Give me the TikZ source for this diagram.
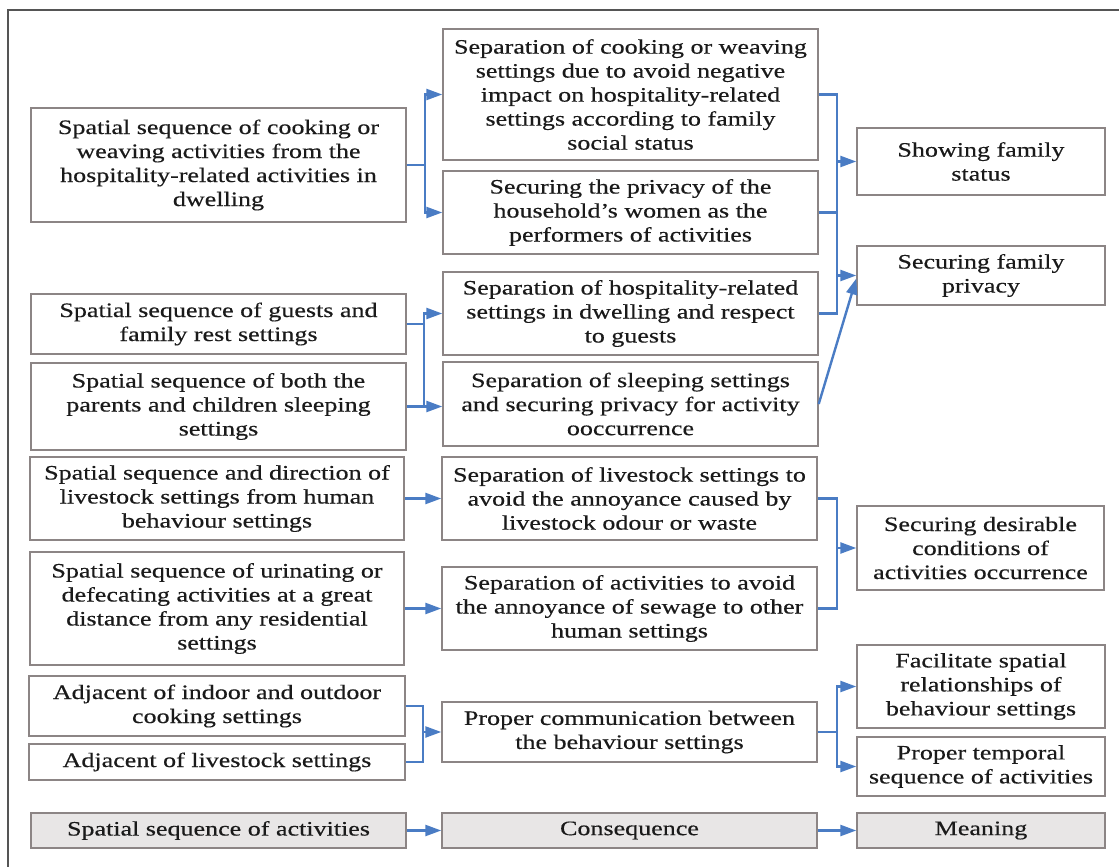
\documentclass[tikz,border=0pt]{standalone}
\usepackage{fontspec}
\setmainfont{Liberation Serif}[FakeStretch=1.27,FakeBold=0.4]
\usetikzlibrary{arrows.meta}
\definecolor{boxline}{HTML}{8C8585}
\definecolor{linkblue}{HTML}{4A7CC4}
\definecolor{keyfill}{HTML}{E8E6E6}
\definecolor{inkc}{HTML}{1A1A1A}
\definecolor{framec}{HTML}{555555}
\tikzset{
  box/.style={draw=boxline, line width=1.4pt, fill=white, align=center,
    inner sep=0pt, text=inkc,
    font=\fontsize{20.5}{24}\selectfont},
  keybox/.style={box, fill=keyfill},
  conn/.style={draw=linkblue, line width=2.4pt},
  arr/.style={conn, -{Triangle[length=16pt,width=11pt]}},
}
\begin{document}
\begin{tikzpicture}[x=1pt,y=-1pt]
\useasboundingbox (0,0) rectangle (1119,867);
\begin{scope}
\clip (0,0) rectangle (1119,867);
\draw[framec, line width=1.6pt] (8,880) -- (8,10) -- (1130,10);
\end{scope}

% left column: spatial sequence of activities
\node[box, minimum width=375pt, minimum height=114pt] (L1) at (218.5,165)
  {Spatial sequence of cooking or\\weaving activities from the\\hospitality-related activities in\\dwelling};
\node[box, minimum width=375pt, minimum height=60pt] (L2) at (218.5,324)
  {Spatial sequence of guests and\\family rest settings};
\node[box, minimum width=375pt, minimum height=87pt] (L3) at (218.5,406.5)
  {Spatial sequence of both the\\parents and children sleeping\\settings};
\node[box, minimum width=374pt, minimum height=83pt] (L4) at (217,498.5)
  {Spatial sequence and direction of\\livestock settings from human\\behaviour settings};
\node[box, minimum width=374pt, minimum height=113pt] (L5) at (217,608.5)
  {Spatial sequence of urinating or\\defecating activities at a great\\distance from any residential\\settings};
\node[box, minimum width=376pt, minimum height=60pt] (L6) at (217,706)
  {Adjacent of indoor and outdoor\\cooking settings};
\node[box, minimum width=376pt, minimum height=36pt] (L7) at (217,762)
  {Adjacent of livestock settings};
\node[keybox, minimum width=375pt, minimum height=35pt] (L8) at (218.5,830.5)
  {Spatial sequence of activities};

% middle column: consequences
\node[box, minimum width=375pt, minimum height=131pt] (M1) at (630.5,94.5)
  {Separation of cooking or weaving\\settings due to avoid negative\\impact on hospitality-related\\settings according to family\\social status};
\node[box, minimum width=375pt, minimum height=83pt] (M2) at (630.5,212.5)
  {Securing the privacy of the\\household’s women as the\\performers of activities};
\node[box, minimum width=375pt, minimum height=83pt] (M3) at (630.5,313.5)
  {Separation of hospitality-related\\settings in dwelling and respect\\to guests};
\node[box, minimum width=375pt, minimum height=84pt] (M4) at (630.5,404)
  {Separation of sleeping settings\\and securing privacy for activity\\ooccurrence};
\node[box, minimum width=375pt, minimum height=83pt] (M5) at (629.5,498.5)
  {Separation of livestock settings to\\avoid the annoyance caused by\\livestock odour or waste};
\node[box, minimum width=375pt, minimum height=83pt] (M6) at (629.5,608.5)
  {Separation of activities to avoid\\the annoyance of sewage to other\\human settings};
\node[box, minimum width=375pt, minimum height=60pt] (M7) at (629.5,732)
  {Proper communication between\\the behaviour settings};
\node[keybox, minimum width=375pt, minimum height=35pt] (M8) at (629.5,830.5)
  {Consequence};

% right column: meanings
\node[box, minimum width=248pt, minimum height=67pt] (R1) at (981,161.5)
  {Showing family\\status};
\node[box, minimum width=248pt, minimum height=59pt] (R2) at (981,275.5)
  {Securing family\\privacy};
\node[box, minimum width=247pt, minimum height=84pt] (R3) at (980.5,548)
  {Securing desirable\\conditions of\\activities occurrence};
\node[box, minimum width=248pt, minimum height=83pt] (R4) at (981,686.5)
  {Facilitate spatial\\relationships of\\behaviour settings};
\node[box, minimum width=248pt, minimum height=59pt] (R5) at (981,766.5)
  {Proper temporal\\sequence of activities};
\node[keybox, minimum width=248pt, minimum height=35pt] (R6) at (981,830.5)
  {Meaning};

% bracket rails
\coordinate (va) at (425,0);
\coordinate (vb) at (424,0);
\coordinate (vc) at (423,0);
\coordinate (vr) at (837,0);

% cooking / weaving sequence
\draw[conn] (L1.east) -- (L1.east -| va);
\draw[arr] (L1.east -| va) |- (M1.west);
\draw[arr] (L1.east -| va) |- (M2.west);

% guests and sleeping sequences
\draw[conn] (L2.east) -- (L2.east -| vb);
\draw[arr] (L3.east -| vb) |- (M3.west);
\draw[arr] (L3.east) -- (L3.east -| M4.west);

% livestock and sewage
\draw[arr] (L4.east) -- (M5.west);
\draw[arr] (L5.east) -- (M6.west);

% adjacency
\draw[conn] (L6.east) -- (L6.east -| vc) -- (L7.east -| vc) -- (L7.east);
\draw[arr] (M7.west -| vc) -- (M7.west);

% consequences to meanings
\draw[conn] (M1.east) -- (M1.east -| vr) -- (M3.east -| vr) -- (M3.east);
\draw[conn] (M2.east) -- (M2.east -| vr);
\draw[arr] (R1.west -| vr) -- (R1.west);
\draw[arr] (R2.west -| vr) -- (R2.west);
\draw[arr] (M4.east) -- ([yshift=-3pt]R2.west);

\draw[conn] (M5.east) -- (M5.east -| vr) -- (M6.east -| vr) -- (M6.east);
\draw[arr] (R3.west -| vr) -- (R3.west);

\draw[conn] (M7.east) -- (M7.east -| vr);
\draw[arr] (M7.east -| vr) |- (R4.west);
\draw[arr] (M7.east -| vr) |- (R5.west);

% key row
\draw[arr] (L8.east) -- (M8.west);
\draw[arr] (M8.east) -- (R6.west);
\end{tikzpicture}
\end{document}
